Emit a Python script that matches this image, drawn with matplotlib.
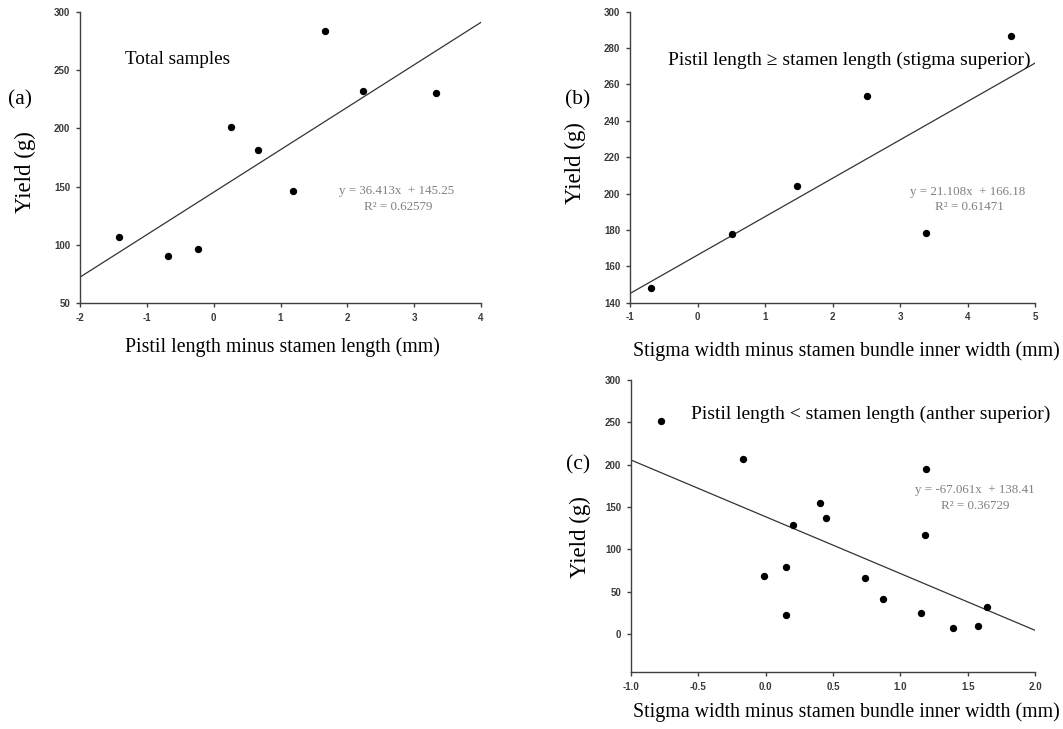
import numpy as np
import matplotlib
matplotlib.use("Agg")
import matplotlib.pyplot as plt

# panel (a): total samples
a_x = [-1.42, -0.69, -0.23, 0.26, 0.66, 1.18, 1.66, 2.24, 3.33]
a_y = [106.5, 90.5, 96.5, 201, 181.3, 146.2, 283.4, 232.4, 230.7]
a_fit = (36.413, 145.25)

# panel (b): stigma superior
b_x = [-0.69, 0.51, 1.47, 2.51, 3.38, 4.65]
b_y = [148.2, 177.8, 204.3, 253.4, 178.2, 286.8]
b_fit = (21.108, 166.18)

# panel (c): anther superior
c_x = [-0.78, -0.17, -0.01, 0.15, 0.15, 0.20, 0.40, 0.45, 0.74, 0.87,
       1.15, 1.19, 1.18, 1.39, 1.58, 1.64]
c_y = [251.5, 206.5, 69, 79.5, 22.5, 128.3, 155.1, 137, 65.5, 41,
       25.2, 194.7, 116.5, 6.7, 9.5, 32]
c_fit = (-67.061, 138.41)

W, H = 1063, 729
fig = plt.figure(figsize=(W / 100, H / 100), dpi=100)
serif = "Liberation Serif"
sans = "Liberation Sans"
axcol = "#404040"


def ax_at(l, t, r, b):
    return fig.add_axes([l / W, 1 - b / H, (r - l) / W, (b - t) / H])


def txt(x, y, s, size, color="black", **kw):
    fig.text(x / W, 1 - y / H, s, fontsize=size, family=serif, color=color,
             ha="center", va="center", **kw)


def panel(ax, xs, ys, fit, xlim, ylim, xticks, yticks, xfmt):
    ax.scatter(xs, ys, s=28, color="black", zorder=3, linewidths=0)
    lx = np.array(xlim)
    ax.plot(lx, fit[0] * lx + fit[1], color="#333333", lw=0.9)
    ax.set_xlim(xlim)
    ax.set_ylim(ylim)
    ax.set_xticks(xticks)
    ax.set_yticks(yticks)
    ax.set_xticklabels([xfmt.format(v) for v in xticks])
    for sp in ["top", "right"]:
        ax.spines[sp].set_visible(False)
    for sp in ["left", "bottom"]:
        ax.spines[sp].set_color(axcol)
        ax.spines[sp].set_linewidth(1.0)
    ax.tick_params(direction="out", length=3, width=1, color=axcol,
                   labelsize=7, labelcolor="#3a3a3a", pad=4)
    for lab in ax.get_xticklabels() + ax.get_yticklabels():
        lab.set_family(sans)
        lab.set_fontweight("bold")


ax1 = ax_at(80, 11.7, 481, 303.3)
panel(ax1, a_x, a_y, a_fit, (-2, 4), (50, 300), range(-2, 5), range(50, 301, 50), "{:g}")

ax2 = ax_at(630, 11.7, 1035, 302.7)
panel(ax2, b_x, b_y, b_fit, (-1, 5), (140, 300), range(-1, 6), range(140, 301, 20), "{:g}")

ax3 = ax_at(631, 380, 1035, 672)
panel(ax3, c_x, c_y, c_fit, (-1, 2), (-45, 300), np.arange(-1, 2.01, 0.5), range(0, 301, 50), "{:.1f}")

# panel letters and axis titles
txt(20, 100, "(a)", 15.5)
txt(578, 100, "(b)", 15.5)
txt(578, 465, "(c)", 15.5)

txt(25, 172, "Yield (g)", 16.5, rotation=90)
txt(575, 163, "Yield (g)", 16.5, rotation=90)
txt(580, 537, "Yield (g)", 16.5, rotation=90)

txt(282, 347, "Pistil length minus stamen length (mm)", 14.3)
txt(846, 351, "Stigma width minus stamen bundle inner width (mm)", 14.3)
txt(846, 712, "Stigma width minus stamen bundle inner width (mm)", 14.3)

txt(178, 60, "Total samples", 13.8)
txt(849, 60, "Pistil length \u2265 stamen length (stigma superior)", 14)
txt(871, 414, "Pistil length < stamen length (anther superior)", 14)

# regression equations
gray = "#808080"
txt(397, 191, "y = 36.413x  + 145.25", 9.4, gray)
txt(398, 207, "R\u00b2 = 0.62579", 9.4, gray)
txt(968, 192, "y = 21.108x  + 166.18", 9.4, gray)
txt(969, 207, "R\u00b2 = 0.61471", 9.4, gray)
txt(975, 490, "y = -67.061x  + 138.41", 9.4, gray)
txt(975, 506, "R\u00b2 = 0.36729", 9.4, gray)

fig.savefig("out.png", dpi=100)
